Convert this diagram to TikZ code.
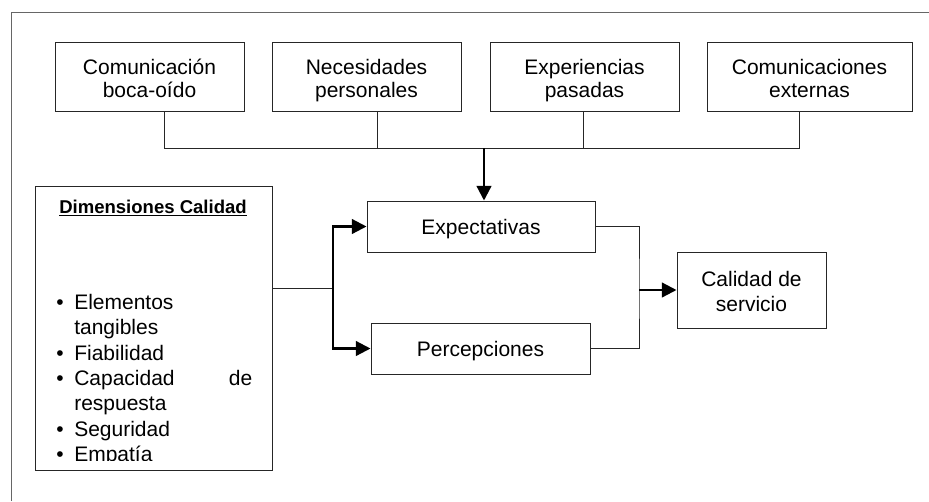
\documentclass[tikz,border=0pt]{standalone}
\usepackage{fontspec}
\setmainfont{Liberation Sans}
\usetikzlibrary{arrows.meta}
\newcommand\topstrut{\rule{0pt}{17.6pt}}
\newcommand\botstrut{\rule[-3.4pt]{0pt}{3.4pt}}
\newcommand\onestrut{\rule[-3.4pt]{0pt}{18.1pt}}
\newcommand\bulitem{\hangindent=13.5pt\hangafter=1\makebox[13.5pt][l]{\textbullet}}
\begin{document}
\begin{tikzpicture}[x=0.75pt,y=-0.75pt,
  txt/.style={font=\fontsize{15.75pt}{17.25pt}\selectfont},
  box/.style={txt, draw=black!85, line width=0.75pt, inner sep=0pt, align=center},
  thinline/.style={draw=black!85, line width=0.75pt},
  boldarrow/.style={draw=black, line width=1.7pt, -{Triangle[length=11pt,width=11pt]}}]
\useasboundingbox (0,0) rectangle (929,501);
% outer frame
\draw[draw=black!60, line width=0.75pt] (11,501) -- (11,12) -- (929,12);
% top boxes
\node[box, minimum width=141.75pt, minimum height=51.75pt] (c1) at (149.5,76.5) {\topstrut Comunicación\\boca-oído\botstrut};
\node[box, minimum width=141.75pt, minimum height=51.75pt] (c2) at (366.5,76.5) {\topstrut Necesidades\\personales\botstrut};
\node[box, minimum width=141.75pt, minimum height=51.75pt] (c3) at (584.5,76.5) {\topstrut Experiencias\\pasadas\botstrut};
\node[box, minimum width=153.75pt, minimum height=51.75pt] (c4) at (809.5,76.5) {\topstrut Comunicaciones\\externas\botstrut};
% middle boxes
\node[box, minimum width=171pt, minimum height=38.25pt] (exp) at (481,226.5) {\onestrut Expectativas};
\node[box, minimum width=164.25pt, minimum height=38.25pt] (per) at (480.5,348.5) {\onestrut Percepciones};
\node[box, minimum width=111.75pt, minimum height=57pt, font=\fontsize{15.75pt}{18.75pt}\selectfont] (cal) at (751.5,290) {\topstrut Calidad de\\servicio\botstrut};
% dimensiones box
\node[draw=black!85, line width=0.75pt, minimum width=177.75pt, minimum height=213pt, inner sep=0pt] (dim) at (153.5,328) {};
\node[font=\bfseries\fontsize{13.9pt}{16pt}\selectfont, anchor=base, inner sep=0pt] (dimt) at (153,213.6) {\underline{Dimensiones Calidad}};
\begin{scope}
\clip (35,186) rectangle (272,460);
\node[anchor=base west, text width=147pt, inner sep=0pt, font=\fontsize{15.75pt}{19pt}\selectfont] (dimlist) at (56,309.5) {%
\parskip=0pt\parindent=0pt
\bulitem Elementos\hfil\break tangibles\par
\bulitem Fiabilidad\par
\bulitem Capacidad\hfill de\hfil\break respuesta\par
\bulitem Seguridad\par
\bulitem Empatía\par};
\end{scope}
% top connectors
\coordinate (h1) at (164,148);
\coordinate (h2) at (377,148);
\coordinate (h3) at (583,148);
\coordinate (h4) at (799,148);
\coordinate (hm) at (484,148);
\draw[thinline] (c1.south -| h1) -- (h1) -- (h4) -- (c4.south -| h4);
\draw[thinline] (c2.south -| h2) -- (h2);
\draw[thinline] (c3.south -| h3) -- (h3);
\draw[boldarrow] (hm) -- (exp.north -| hm);
% left connectors
\coordinate (v) at (333,288);
\draw[thinline] (dim.east |- v) -- (v);
\draw[boldarrow] (v) |- (exp.west);
\draw[boldarrow] (v) |- (per.west);
% right connectors
\coordinate (w) at (639,290);
\draw[thinline] (exp.east) -| (w) |- (per.east);
\draw[boldarrow] (w) -- (cal.west);
\end{tikzpicture}
\end{document}
